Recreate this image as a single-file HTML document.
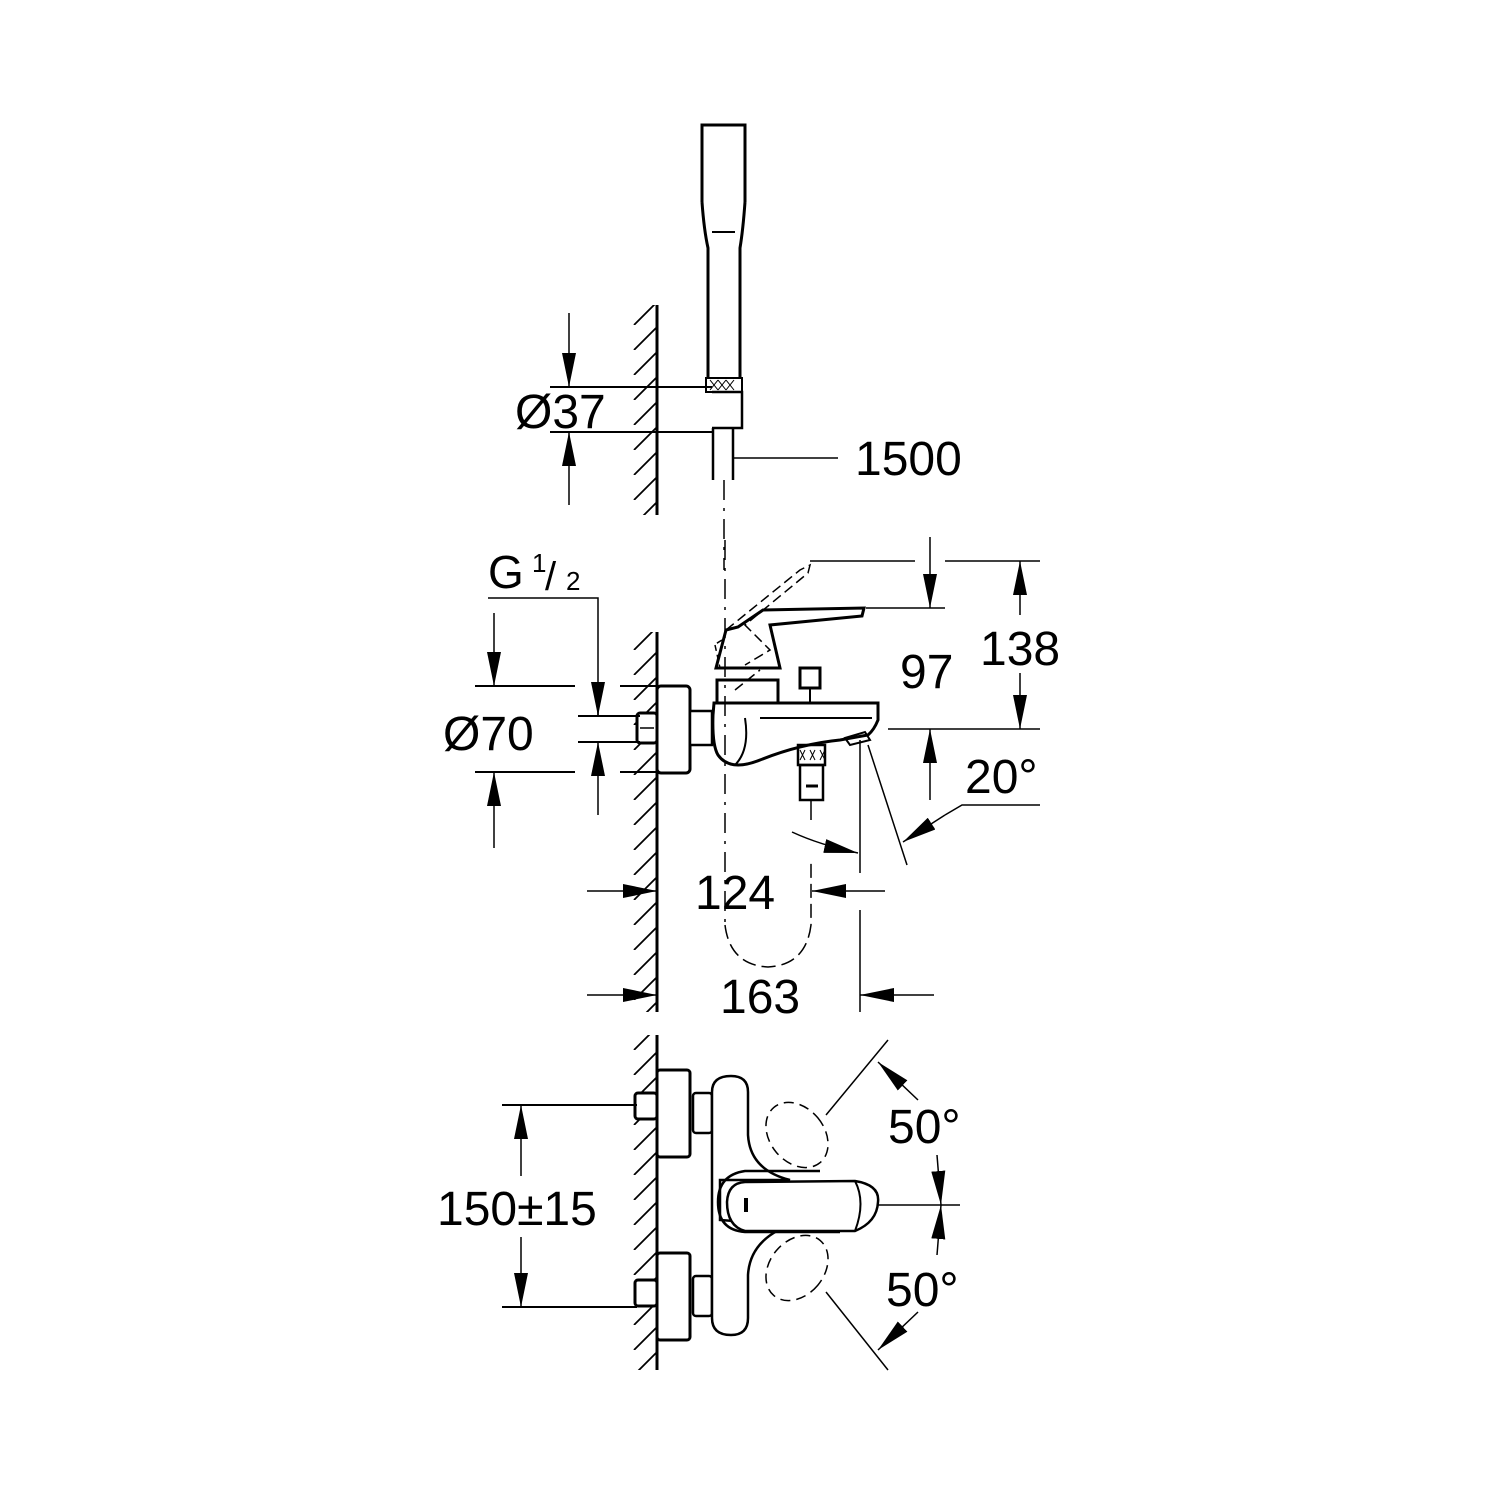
<!DOCTYPE html>
<html><head><meta charset="utf-8"><style>
html,body{margin:0;padding:0;background:#fff;}
svg{display:block;}
text{font-family:"Liberation Sans",sans-serif;fill:#000;}
</style></head><body>
<svg width="1500" height="1500" viewBox="0 0 1500 1500" xmlns="http://www.w3.org/2000/svg">
<defs>
<pattern id="hatch" x="633" y="0" width="24" height="25" patternUnits="userSpaceOnUse">
<line x1="1" y1="25" x2="24" y2="2" stroke="#000" stroke-width="1.8"/>
</pattern>
<marker id="ar" viewBox="0 0 10 10" refX="10" refY="5" markerWidth="34" markerHeight="14" markerUnits="userSpaceOnUse" orient="auto" preserveAspectRatio="none"><path d="M0,0 L10,5 L0,10Z"/></marker>
</defs>
<g stroke="#000" fill="none" stroke-width="1.5">
<rect x="633" y="305" width="24" height="210" fill="url(#hatch)" stroke="none"/>
<line x1="657" y1="305" x2="657" y2="515" stroke-width="3"/>
<path d="M702,202 L702,125 L745,125 L745,202 M702,202 Q704,230 708,248 L708,378 M745,202 Q743,230 740,248 L740,378" stroke-width="3"/>
<line x1="712" y1="232" x2="735" y2="232" stroke-width="2"/>
<rect x="706" y="378" width="36" height="14" stroke-width="2"/>
<path d="M710,380 l8,10 m0,-10 l-8,10 m8,-10 l8,10 m0,-10 l-8,10 m8,-10 l8,10 m0,-10 l-8,10" stroke-width="1"/>
<path d="M712,392 L742,392 L742,428 L712,428" stroke-width="2.5"/>
<path d="M713,428 L713,480 M733,428 L733,480" stroke-width="2.5"/>
<line x1="724" y1="480" x2="724" y2="570" stroke-dasharray="20,8,3,8" stroke-width="1.5"/>
<line x1="550" y1="387" x2="712" y2="387" stroke-width="2"/>
<line x1="550" y1="432" x2="712" y2="432" stroke-width="2"/>
<line x1="569" y1="313" x2="569" y2="387" marker-end="url(#ar)"/>
<line x1="569" y1="505" x2="569" y2="432" marker-end="url(#ar)"/>
<line x1="733" y1="458" x2="838" y2="458"/>

<rect x="633" y="632" width="24" height="380" fill="url(#hatch)" stroke="none"/>
<line x1="657" y1="632" x2="657" y2="1012" stroke-width="3"/>
<rect x="657" y="686" width="33" height="87" rx="4" stroke-width="3" fill="#fff"/>
<rect x="637" y="713" width="20" height="30" rx="3" stroke-width="3" fill="#fff"/>
<line x1="640" y1="728" x2="654" y2="728"/>
<rect x="690" y="711" width="22" height="34" stroke-width="2.5" fill="#fff"/>
<path d="M714,703 L878,703 L878,720 Q874,730 868,735 L840,740 Q800,744 760,760 Q730,772 718,755 Q712,745 713,715 Z" stroke-width="3" fill="#fff"/>
<path d="M760,718 L872,718" stroke-width="2"/>
<path d="M745,718 Q750,750 735,765" stroke-width="2"/>
<path d="M845,738 L865,732 L870,740 L850,745 Z" stroke-width="2"/>
<path d="M717,703 L717,680 L778,680 L778,703" stroke-width="3"/>
<path d="M716,668 L726,630 L738,627 L763,610 L864,608 L862,616 L770,625 L780,668 Z" stroke-width="3" fill="#fff"/>
<path d="M715,645 L720,668 M722,640 L714,645" stroke-width="1.5" stroke-dasharray="6,4"/>
<path d="M726,630 L800,570 L810,565 L808,573 L745,625 L770,650 L745,665 M735,690 L760,670" stroke-width="1.5" stroke-dasharray="10,5"/>
<rect x="800" y="668" width="20" height="20" stroke-width="3"/>
<line x1="810" y1="688" x2="810" y2="703" stroke-width="2"/>
<rect x="798" y="745" width="27" height="20" stroke-width="2.5"/>
<path d="M800,750 l5,10 m0,-10 l-5,10 m10,-10 l5,10 m0,-10 l-5,10 m10,-10 l5,10 m0,-10 l-5,10" stroke-width="1"/>
<rect x="800" y="765" width="23" height="35" stroke-width="2.5"/>
<line x1="806" y1="786" x2="818" y2="786" stroke-width="3"/>
<line x1="811" y1="800" x2="811" y2="820"/>
<line x1="725" y1="540" x2="725" y2="925" stroke-dasharray="20,8,3,8"/>
<path d="M725,925 Q730,965 768,967 Q806,965 811,925 L811,860" stroke-dasharray="14,6" />
<path d="M792,832 Q820,845 858,853" marker-end="url(#ar)"/>
<polyline points="488,598 598,598 598,716"/>
<line x1="598" y1="690" x2="598" y2="716" marker-end="url(#ar)"/>
<line x1="598" y1="815" x2="598" y2="742" marker-end="url(#ar)"/>
<line x1="578" y1="716" x2="640" y2="716" stroke-width="2"/>
<line x1="578" y1="742" x2="640" y2="742" stroke-width="2"/>
<line x1="475" y1="686" x2="575" y2="686" stroke-width="2"/>
<line x1="620" y1="686" x2="657" y2="686" stroke-width="2"/>
<line x1="475" y1="772" x2="575" y2="772" stroke-width="2"/>
<line x1="620" y1="772" x2="657" y2="772" stroke-width="2"/>
<line x1="494" y1="613" x2="494" y2="686" marker-end="url(#ar)"/>
<line x1="494" y1="848" x2="494" y2="772" marker-end="url(#ar)"/>
<line x1="866" y1="608" x2="945" y2="608"/>
<line x1="810" y1="561" x2="915" y2="561"/>
<line x1="945" y1="561" x2="1040" y2="561"/>
<line x1="888" y1="729" x2="1040" y2="729"/>
<line x1="930" y1="537" x2="930" y2="608" marker-end="url(#ar)"/>
<line x1="930" y1="800" x2="930" y2="729" marker-end="url(#ar)"/>
<line x1="1020" y1="615" x2="1020" y2="561" marker-end="url(#ar)"/>
<line x1="1020" y1="673" x2="1020" y2="729" marker-end="url(#ar)"/>
<line x1="868" y1="745" x2="907" y2="865"/>
<line x1="860" y1="740" x2="860" y2="873"/>
<line x1="860" y1="910" x2="860" y2="1012"/>
<polyline points="1040,805 962,805 945,815" />
<line x1="945" y1="815" x2="903" y2="842" marker-end="url(#ar)"/>
<line x1="587" y1="891" x2="657" y2="891" marker-end="url(#ar)"/>
<line x1="885" y1="891" x2="812" y2="891" marker-end="url(#ar)"/>
<line x1="587" y1="995" x2="657" y2="995" marker-end="url(#ar)"/>
<line x1="934" y1="995" x2="860" y2="995" marker-end="url(#ar)"/>

<rect x="633" y="1035" width="24" height="335" fill="url(#hatch)" stroke="none"/>
<line x1="657" y1="1035" x2="657" y2="1370" stroke-width="3"/>
<rect x="657" y="1070" width="33" height="87" rx="3" stroke-width="3" fill="#fff"/>
<rect x="657" y="1253" width="33" height="87" rx="3" stroke-width="3" fill="#fff"/>
<rect x="635" y="1093" width="22" height="26" rx="3" stroke-width="3" fill="#fff"/>
<rect x="635" y="1280" width="22" height="26" rx="3" stroke-width="3" fill="#fff"/>
<rect x="693" y="1093" width="19" height="40" rx="3" stroke-width="2.5" fill="#fff"/>
<rect x="693" y="1276" width="19" height="40" rx="3" stroke-width="2.5" fill="#fff"/>
<ellipse cx="797" cy="1135" rx="27" ry="36" transform="rotate(-40 797 1135)" stroke-dasharray="10,6"/>
<ellipse cx="797" cy="1268" rx="27" ry="36" transform="rotate(40 797 1268)" stroke-dasharray="10,6"/>
<path d="M712,1092 Q712,1076 731,1076 Q748,1076 748,1092 L748,1135 Q750,1170 790,1180 L720,1180 L720,1220 L790,1225 Q750,1240 748,1275 L748,1318 Q748,1335 731,1335 Q712,1335 712,1318 Z" stroke-width="2.5" fill="#fff"/>
<path d="M820,1171 L745,1171 Q718,1175 718,1202 Q718,1230 745,1232 L840,1232" stroke-width="2.5"/>
<path d="M745,1182 L855,1181 Q880,1185 878,1202 Q877,1222 855,1231 L745,1231 Q727,1226 727,1202 Q728,1183 745,1182 Z" stroke-width="2.5" fill="#fff"/>
<path d="M855,1181 Q866,1202 855,1231" stroke-width="2"/>
<line x1="746" y1="1198" x2="746" y2="1212" stroke-width="4"/>
<line x1="826" y1="1115" x2="888" y2="1040"/>
<line x1="826" y1="1292" x2="888" y2="1370"/>
<line x1="878" y1="1205" x2="960" y2="1205"/>
<line x1="918" y1="1100" x2="878" y2="1062" marker-end="url(#ar)"/>
<line x1="918" y1="1312" x2="878" y2="1350" marker-end="url(#ar)"/>
<line x1="937" y1="1155" x2="941" y2="1205" marker-end="url(#ar)"/>
<line x1="937" y1="1255" x2="941" y2="1205" marker-end="url(#ar)"/>
<line x1="502" y1="1105" x2="637" y2="1105" stroke-width="2"/>
<line x1="502" y1="1307" x2="637" y2="1307" stroke-width="2"/>
<line x1="521" y1="1176" x2="521" y2="1105" marker-end="url(#ar)"/>
<line x1="521" y1="1237" x2="521" y2="1307" marker-end="url(#ar)"/>
</g>
<text x="488" y="588" font-size="46">G</text>
<text x="532" y="572" font-size="26">1</text>
<text x="545" y="590" font-size="40">/</text>
<text x="566" y="590" font-size="26">2</text>
<g font-size="48">
<text x="515" y="428">Ø37</text>
<text x="855" y="475">1500</text>
<text x="443" y="750">Ø70</text>
<text x="900" y="688">97</text>
<text x="980" y="665">138</text>
<text x="965" y="793">20°</text>
<text x="695" y="909">124</text>
<text x="720" y="1013">163</text>
<text x="437" y="1225">150±15</text>
<text x="888" y="1143">50°</text>
<text x="886" y="1306">50°</text>
</g>
</svg>
</body></html>
